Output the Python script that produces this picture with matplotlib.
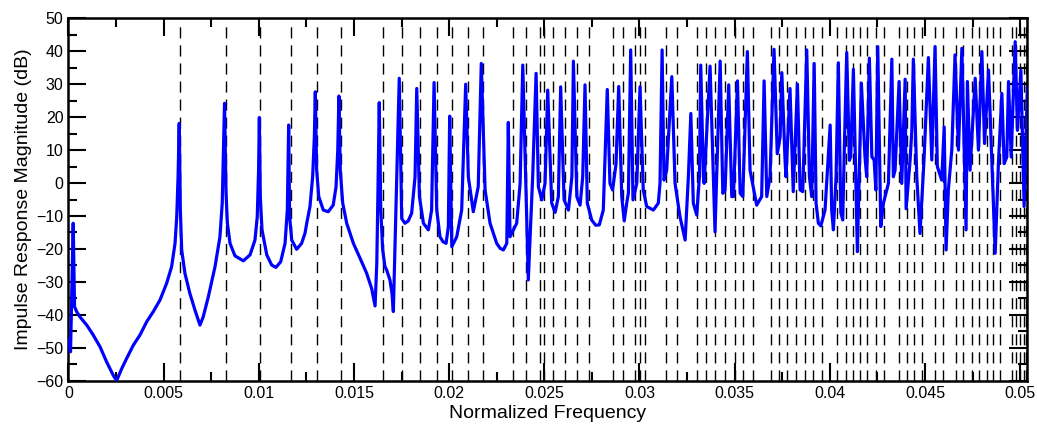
import matplotlib
matplotlib.use('Agg')
import matplotlib.pyplot as plt
from matplotlib.ticker import MultipleLocator, FuncFormatter

plt.rcParams['font.family'] = ['Liberation Sans', 'DejaVu Sans']

# mode frequencies (dashed lines)
modes = [0.00588, 0.00826, 0.01007, 0.01168, 0.01304, 0.0143, 0.01651, 0.01751,
         0.01847, 0.01935, 0.02014, 0.02101, 0.0218, 0.02334, 0.02404, 0.02478,
         0.02499, 0.02544, 0.02609, 0.0267, 0.02737, 0.0286, 0.02913, 0.02977,
         0.03003, 0.03031, 0.03138, 0.03196, 0.03304, 0.0335, 0.03397, 0.0345,
         0.03501, 0.03546, 0.03595, 0.03691, 0.03734, 0.03777, 0.03823, 0.0387,
         0.03914, 0.03958, 0.0404, 0.04086, 0.04124, 0.04161, 0.04198, 0.04242,
         0.04287, 0.04366, 0.04404, 0.04443, 0.04483, 0.04553, 0.04593, 0.04664,
         0.04702, 0.04746, 0.04786, 0.04825, 0.0486, 0.04895, 0.04956, 0.04979,
         0.05, 0.05018, 0.05032]

# impulse response magnitude: low band (0 - 0.0173)
freq_low = [0.0, 0.00004, 0.00011, 0.00025, 0.00032, 0.00043, 0.0006, 0.00096,
            0.0013, 0.00166, 0.002, 0.00235, 0.00253, 0.0028, 0.00306, 0.00341,
            0.00376, 0.00411, 0.00446, 0.00481, 0.00516, 0.00542, 0.0056, 0.00569,
            0.00576, 0.00582, 0.00588, 0.00595, 0.00612, 0.00638, 0.00665, 0.00691,
            0.00708, 0.00735, 0.0077, 0.00796, 0.00808, 0.00813, 0.0082, 0.00828,
            0.00835, 0.00849, 0.00875, 0.00919, 0.00954, 0.0098, 0.00992, 0.00999,
            0.01003, 0.01008, 0.01017, 0.01042, 0.01068, 0.0109, 0.01115, 0.01138,
            0.0115, 0.01157, 0.01162, 0.01173, 0.01199, 0.01225, 0.01243, 0.01252,
            0.01269, 0.01283, 0.01292, 0.01297, 0.01304, 0.01315, 0.01339, 0.01365,
            0.01391, 0.01406, 0.01415, 0.01421, 0.01428, 0.01441, 0.01462, 0.01497,
            0.01532, 0.01567, 0.01593, 0.01611, 0.0162, 0.01626, 0.01633, 0.01641,
            0.01651, 0.01663, 0.01672, 0.01689, 0.017, 0.01707, 0.01716, 0.01725,
            0.01731]
db_low = [-47.5, -48.7, -51.2, -12.2, -37.5, -39, -40.6, -43.1,
          -46.1, -49.7, -54.2, -58.3, -60, -56.3, -53.2, -49.2,
          -46.1, -42.1, -39, -35.5, -30.4, -25.4, -18.3, -10.2,
          1.9, 18.1, -8.2, -20.3, -27.4, -33.5, -38.6, -43.1,
          -40.6, -34.5, -25.4, -16.3, -6.1, 7, 24.2, -3.1,
          -12.2, -18.3, -22.1, -23.6, -21.8, -17.3, -10.2, 4,
          19.9, -4.1, -14.2, -21.8, -24.9, -25.6, -23.9, -18.3,
          -8.2, 17.6, -10.2, -17.3, -20.1, -18.3, -15.2, -12.2,
          -7.1, 1.9, 14, 27.7, 4, -4.1, -8.2, -8.7,
          -6.7, -1.1, 10, 26.4, 4, -6.1, -12.2, -18.3,
          -22.8, -27.4, -32, -37.3, -24.4, -3.1, 24.4, -8.2,
          -20.3, -25.4, -26.4, -29.4, -33.5, -39, -18.3, 1.9,
          17]

# high band (0.0173 - end)
freq_high = [0.01738, 0.01751, 0.01768, 0.01785, 0.01803, 0.01821, 0.0183, 0.01844,
             0.01865, 0.01891, 0.01908, 0.01921, 0.01935, 0.01952, 0.01968, 0.01984,
             0.01996, 0.02003, 0.02014, 0.0204, 0.02066, 0.02087, 0.02101, 0.02127,
             0.02153, 0.02169, 0.02189, 0.02215, 0.0225, 0.02268, 0.02285, 0.02303,
             0.02311, 0.0232, 0.02355, 0.02373, 0.02387, 0.02416, 0.02439, 0.02457,
             0.02469, 0.02487, 0.02504, 0.02518, 0.02539, 0.02557, 0.02574, 0.02586,
             0.02604, 0.02627, 0.02645, 0.02653, 0.02671, 0.02688, 0.02702, 0.02714,
             0.02726, 0.02749, 0.0277, 0.02789, 0.0281, 0.02831, 0.02845, 0.02859,
             0.02877, 0.02891, 0.02907, 0.0292, 0.02933, 0.02942, 0.02954, 0.02966,
             0.02986, 0.03003, 0.0302, 0.03038, 0.03073, 0.03099, 0.03108, 0.03119,
             0.03129, 0.03143, 0.0317, 0.03187, 0.03213, 0.0324, 0.03257, 0.0327,
             0.03283, 0.03301, 0.03315, 0.03322, 0.03336, 0.0334, 0.03371, 0.03397,
             0.03424, 0.03438, 0.0345, 0.03469, 0.03485, 0.03494, 0.03515, 0.03529,
             0.03543, 0.03567, 0.03581, 0.03616, 0.03642, 0.03655, 0.03669, 0.03686,
             0.03707, 0.03724, 0.03739, 0.03748, 0.03765, 0.0377, 0.03791, 0.03808,
             0.0383, 0.03844, 0.03858, 0.03879, 0.03893, 0.03905, 0.03918, 0.03928,
             0.0394, 0.03953, 0.03975, 0.04002, 0.0401, 0.04019, 0.04033, 0.04045,
             0.04058, 0.04068, 0.04077, 0.04089, 0.04103, 0.0411, 0.04124, 0.04145,
             0.04166, 0.04185, 0.04194, 0.04208, 0.04221, 0.04233, 0.04242, 0.04252,
             0.04268, 0.04282, 0.04308, 0.04326, 0.04334, 0.04343, 0.04364, 0.04378,
             0.04396, 0.04401, 0.04422, 0.04431, 0.04439, 0.04457, 0.04474, 0.04495,
             0.04518, 0.04536, 0.04553, 0.04565, 0.04588, 0.04601, 0.04611, 0.04623,
             0.04641, 0.04658, 0.04676, 0.04694, 0.04716, 0.04723, 0.04737, 0.04764,
             0.04781, 0.04799, 0.04813, 0.04834, 0.04869, 0.04886, 0.04904, 0.04916,
             0.0493, 0.04939, 0.04953, 0.04974, 0.04986, 0.05004, 0.05021, 0.05038]
db_high = [31.8, -10.8, -12.2, -11.5, -9.2, 1.9, 28.7, -4.1,
           -12.2, -14.2, -8.2, 30.5, -8.2, -16.3, -17.8, -18.3,
           -13.2, 20.3, -19.3, -16.3, -8.2, 30, 1.9, -8.7,
           -1.1, 36.3, -2.1, -12.2, -18.3, -19.8, -20.3, -18.3,
           18.4, -16.3, -12.2, -0.1, 35.8, -29.4, 1.9, 33.3,
           -1.1, -5.1, -0.1, 28.2, -6.1, -8.9, -4.1, 29.2,
           -5.1, -8.2, 1.9, 37, -4.1, -6.7, 1.9, 29.8,
           -6.1, -11.2, -12.8, -12.7, -8.2, 28.4, -0.1, -2.1,
           5.9, 29.3, -4.1, -11.5, -6.1, -3, 40.4, -5.1,
           -0.1, 29.2, -2.1, -7.1, -8.2, -6.1, -0.1, 40.4,
           0.9, 3.9, 32.3, -0.1, -10.2, -17.3, 1.9, 21.1,
           -6.1, -9.7, 1.9, 35.8, 1.9, -0.1, 35.5, -14.8,
           37, -3.1, -2.1, 29.8, -4.1, -4.1, 31, -3.1,
           -4.1, 39.9, 3.9, -6.7, -4.1, 31, -4.1, 1.9,
           40.6, 8.9, 14, 33.5, 6.9, 1.9, 28.7, -2.6,
           30, -2.1, -2.6, 40.4, 1.9, -4.1, 36.3, -6.1,
           -12.2, -13, -8.2, 17.6, -8.2, -14.2, 1.9, 36.5,
           -9, -11.2, 12, 39.6, 6.9, 8, 34.5, -20.8,
           30.3, 7.9, 1.9, 37.9, 8, 7, -2.1, 41.4,
           -13.2, -6.1, -0.1, 37.6, 1.9, 3.9, 30.8, -0.1,
           31.5, -7.8, 7, 16, 37.6, 1.9, -15.3, 7,
           38.1, 7, 41.4, 5, 0.9, 17, -20.3, -2,
           10, 38.9, 10, 40.9, -14.2, 30.8, 3.9, 31.8,
           10, 39.9, 12, 34.3, -21.3, 6, 27.2, 5.9,
           7.9, 30.8, 7.9, 42.9, 16, 34.3, -7.1, 29.3]

x_ticks = [0, 0.005, 0.01, 0.015, 0.02, 0.025, 0.03, 0.035, 0.04, 0.045, 0.05]
y_ticks = [-60, -50, -40, -30, -20, -10, 0, 10, 20, 30, 40, 50]

fig = plt.figure(figsize=(10.37, 4.24), dpi=100)
ax = fig.add_axes([0.066, 0.102, 0.9247, 0.8548])

for m in modes:
    ax.axvline(m, ymax=0.985, color='black', lw=1.0, ls=(0, (8, 5)), zorder=1)

ax.plot(freq_low + freq_high, db_low + db_high, color='#0000ff', lw=2.3,
        solid_joinstyle='round', zorder=3)

ax.set_xlim(0, 0.05038)
ax.set_ylim(-60, 50)
ax.set_xticks(x_ticks)
ax.set_yticks(y_ticks)
ax.xaxis.set_major_formatter(FuncFormatter(lambda v, p: '%g' % round(v, 4)))
ax.xaxis.set_minor_locator(MultipleLocator(0.0025))
ax.yaxis.set_minor_locator(MultipleLocator(5))
ax.tick_params(which='both', direction='in', top=True, right=True, labelsize=11.5, width=1.5)
ax.tick_params(which='major', length=13)
ax.tick_params(which='minor', length=6.5)
for s in ax.spines.values():
    s.set_linewidth(1.8)

ax.set_xlabel('Normalized Frequency', fontsize=14, labelpad=3)
ax.set_ylabel('Impulse Response Magnitude (dB)', fontsize=14, labelpad=3)

fig.savefig('out.png', dpi=100)
